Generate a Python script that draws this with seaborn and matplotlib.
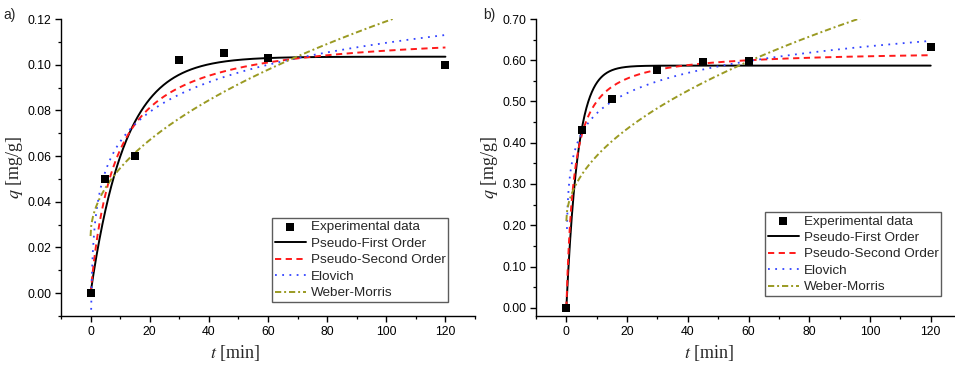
import numpy as np
import pandas as pd
import matplotlib
matplotlib.use("Agg")
import matplotlib.pyplot as plt
import seaborn as sns
from matplotlib.ticker import MultipleLocator, FormatStrFormatter

# ---- experimental data ----
t_exp = [0, 5, 15, 30, 45, 60, 120]
q_exp_a = [0.000, 0.050, 0.060, 0.102, 0.105, 0.103, 0.100]
q_exp_b = [0.000, 0.430, 0.507, 0.577, 0.596, 0.597, 0.632]

# ---- fitted model parameters ----
pfo_a = [0.1035, 0.086]      # qe, k1
pso_a = [0.115, 1.043]       # qe, k2
elo_a = [0.023, 0.0188]      # intercept, slope of ln t
wm_a = [0.025, 0.0094]       # C, kid
pfo_b = [0.587, 0.264]
pso_b = [0.625, 0.64]
elo_b = [0.3085, 0.0707]
wm_b = [0.21, 0.050]
elo_start = [0.2, 0.19]

series_names = ["Experimental data", "Pseudo-First Order", "Pseudo-Second Order",
                "Elovich", "Weber-Morris"]
colors = ["black", "black", "#ff1a1a", "#3344ff", "#9a9a22"]


def curves(pfo, pso, elo, wm, t0):
    t = np.linspace(0, 120, 600)
    te = np.linspace(t0, 120, 600)
    return {
        "pfo": (t, pfo[0] * (1 - np.exp(-pfo[1] * t))),
        "pso": (t, pso[0] ** 2 * pso[1] * t / (1 + pso[0] * pso[1] * t)),
        "elo": (te, elo[0] + elo[1] * np.log(te)),
        "wm": (t, wm[0] + wm[1] * np.sqrt(t)),
    }


sns.set_style("ticks")
plt.rcParams["font.family"] = ["Liberation Sans", "DejaVu Sans"]
plt.rcParams["mathtext.fontset"] = "stix"

fig = plt.figure(figsize=(9.55, 3.66), dpi=100)
axA = fig.add_axes([61 / 955, 50 / 366, 414 / 955, 297 / 366])
axB = fig.add_axes([536 / 955, 50 / 366, 419 / 955, 297 / 366])

panels = [
    (axA, q_exp_a, curves(pfo_a, pso_a, elo_a, wm_a, elo_start[0]), (-10, 130), (-0.01, 0.12),
     0.02, 0.01, "%.2f", (0.935, 0.047), "a)", 3, 0.42),
    (axB, q_exp_b, curves(pfo_b, pso_b, elo_b, wm_b, elo_start[1]), (-10, 128), (-0.02, 0.70),
     0.10, 0.05, "%.2f", (0.967, 0.067), "b)", 483, 0.413),
]

for ax, qexp, cv, xl, yl, ymaj, ymin, fmt, lpos, lab, lx, xlab in panels:
    sns.scatterplot(x=t_exp, y=qexp, ax=ax, marker="s", s=32, color="black",
                    edgecolor="black", linewidth=0, label=series_names[0], zorder=5)
    sns.lineplot(x=cv["pfo"][0], y=cv["pfo"][1], ax=ax, color=colors[1], lw=1.4,
                 label=series_names[1], estimator=None)
    sns.lineplot(x=cv["pso"][0], y=cv["pso"][1], ax=ax, color=colors[2], lw=1.4,
                 linestyle=(0, (3.2, 2.3)), label=series_names[2], estimator=None)
    sns.lineplot(x=cv["elo"][0], y=cv["elo"][1], ax=ax, color=colors[3], lw=1.3,
                 linestyle=(0, (1, 3)), label=series_names[3], estimator=None)
    sns.lineplot(x=cv["wm"][0], y=cv["wm"][1], ax=ax, color=colors[4], lw=1.4,
                 linestyle=(0, (3.2, 1.5, 1, 1.5)), label=series_names[4], estimator=None)
    ax.set_xlim(*xl)
    ax.set_ylim(*yl)
    ax.xaxis.set_major_locator(MultipleLocator(20))
    ax.xaxis.set_minor_locator(MultipleLocator(10))
    ax.yaxis.set_major_locator(MultipleLocator(ymaj))
    ax.yaxis.set_minor_locator(MultipleLocator(ymin))
    ax.yaxis.set_major_formatter(FormatStrFormatter(fmt))
    for s in ["top", "right"]:
        ax.spines[s].set_visible(False)
    for s in ["left", "bottom"]:
        ax.spines[s].set_linewidth(1.0)
        ax.spines[s].set_color("black")
    ax.tick_params(which="major", direction="out", length=4.5, width=1.0, labelsize=8.8,
                   colors="black", pad=2.5)
    ax.tick_params(which="minor", direction="out", length=2.5, width=0.9, colors="black")
    ax.set_xlabel(r"$t$ [min]", fontsize=13, family="Liberation Serif", labelpad=4)
    ax.xaxis.set_label_coords(xlab, -0.09)
    ax.set_ylabel(r"$q$ [mg/g]", fontsize=13, family="Liberation Serif", labelpad=2)
    leg = ax.legend(loc="lower right", bbox_to_anchor=lpos, fontsize=9.7, frameon=True,
                    fancybox=False, edgecolor="#333333", handlelength=2.3,
                    labelspacing=0.3, borderpad=0.2, handletextpad=0.35,
                    borderaxespad=0.0, markerscale=1.0)
    leg.get_frame().set_linewidth(1.0)
    fig.text(lx / 955, 1 - 15 / 366, lab, fontsize=10, va="center", ha="left")

fig.savefig("out.png", dpi=100)
